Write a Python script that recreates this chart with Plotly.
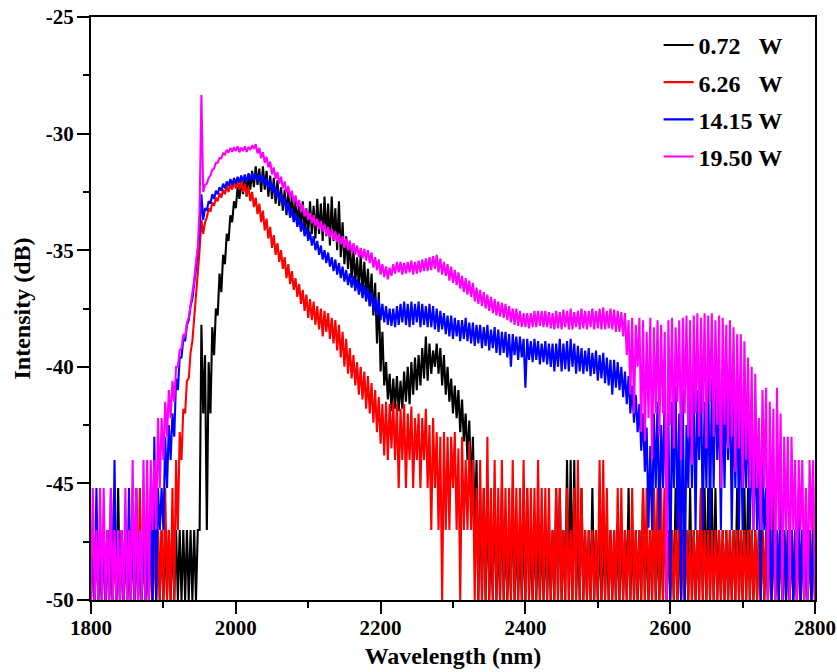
import plotly.graph_objects as go

# Wavelength bins (nm), 5 nm apart; for each bin the lowest and highest
# level the trace reaches inside that bin, in dB.
wavelength = list(range(1800, 2805, 5))

series_names = ["0.72\u00a0\u00a0\u00a0W", "6.26\u00a0\u00a0\u00a0W", "14.15 W", "19.50 W"]
series_colors = ["#000000", "#ff0000", "#0000ff", "#ff00ff"]

black_hi = [
    -47, -47, -47, -47, -47, -47, -47, -45.2, -47, -47,                        # 1800
    -47, -45.2, -47, -47, -47, -47, -47, -47, -47, -47,                        # 1850
    -47, -47, -47, -47, -47, -47, -47, -47, -47, -47,                          # 1900
    -38.2, -39.5, -39.8, -38.3, -37.5, -36.0, -35.2, -34.3, -33.5, -32.9,      # 1950
    -32.3, -32.0, -31.8, -31.7, -31.6, -31.4, -31.5, -31.4, -31.6, -31.8,      # 2000
    -31.9, -32.0, -32.3, -32.4, -32.5, -32.6, -32.9, -33.0, -32.9, -33.2,      # 2050
    -32.9, -33.1, -32.8, -33.0, -32.7, -33.0, -32.7, -33.2, -32.9, -33.8,      # 2100
    -34.4, -34.6, -35.0, -35.3, -35.2, -35.5, -35.8, -36.0, -36.4, -36.8,      # 2150
    -38.5, -39.8, -40.3, -40.5, -40.4, -40.6, -40.2, -40.0, -39.8, -39.6,      # 2200
    -39.5, -39.2, -38.7, -39.0, -39.3, -39.0, -39.2, -39.5, -40.0, -40.5,      # 2250
    -40.8, -41.0, -41.4, -42.0, -42.3, -43.0, -44.0, -45.2, -45.2, -45.2,      # 2300
    -47, -45.2, -47, -45.2, -47, -47, -45.2, -47, -47, -47,                    # 2350
    -45.2, -47, -47, -47, -47, -47, -47, -47, -45.2, -45.2,                    # 2400
    -47, -44.0, -44.0, -44.0, -47, -45.2, -47, -47, -45.2, -47,                # 2450
    -47, -47, -47, -47, -47, -47, -47, -47, -45.2, -47,                        # 2500
    -47, -47, -45.2, -47, -47, -45.2, -47, -47, -45.2, -47,                    # 2550
    -47, -45.2, -47, -47, -47, -45.2, -47, -47, -45.2, -45.2,                  # 2600
    -45.2, -45.2, -45.2, -47, -47, -47, -47, -47, -45.2, -47,                  # 2650
    -45.2, -45.2, -47, -47, -47, -47, -47, -47, -45.2, -47,                    # 2700
    -47, -47, -47, -47, -47, -47, -47, -47, -47, -47,                          # 2750
    -47,                                                                       # 2800
]
black_lo = (
    [-50] * 30 + [
    -47.0, -42.0, -47.0, -42.0, -39.5, -37.8, -36.8, -35.6, -34.6, -33.8,      # 1950
    -33.2, -32.8, -32.6, -32.7, -32.4, -32.3, -32.2, -32.5, -32.4, -32.7,      # 2000
    -32.8, -33.0, -33.1, -33.3, -33.5, -33.6, -33.7, -33.9, -34.1, -34.2,      # 2050
    -34.4, -34.3, -34.5, -34.3, -34.6, -34.4, -34.8, -34.6, -35.0, -35.3,      # 2100
    -35.6, -35.8, -36.2, -36.4, -36.6, -36.8, -37.0, -37.4, -37.8, -39.0,      # 2150
    -40.2, -40.8, -41.4, -41.9, -41.8, -41.9, -41.8, -41.5, -41.6, -41.2,      # 2200
    -41.0, -40.8, -40.5, -40.6, -40.3, -40.0, -40.3, -40.8, -41.2, -41.5,      # 2250
    -42.0, -42.2, -42.8, -43.2, -44.0, -45.2, -47.0, -50, -50, -50,            # 2300
    ] + [-50] * 91                                                             # 2350-2800
)

red_hi = [
    -47, -47, -47, -47, -47, -47, -47, -47, -47, -47,                          # 1800
    -47, -47, -45.2, -45.2, -47, -47, -47, -47, -47, -47,                      # 1850
    -45.2, -47, -45.2, -44.0, -42.8, -41.8, -40.6, -39.4, -37.9, -36.2,        # 1900
    -33.7, -33.8, -33.2, -32.95, -32.75, -32.55, -32.4, -32.25, -32.15, -32.05,  # 1950
    -32.0, -32.05, -32.15, -32.3, -32.5, -32.75, -33.0, -33.3, -33.65, -34.0,  # 2000
    -34.35, -34.7, -35.0, -35.3, -35.6, -35.9, -36.2, -36.45, -36.7, -36.9,    # 2050
    -37.1, -37.2, -37.4, -37.5, -37.6, -37.7, -37.9, -38.0, -38.2, -38.5,      # 2100
    -38.8, -39.2, -39.5, -39.8, -40.0, -40.2, -40.4, -40.7, -41.0, -41.3,      # 2150
    -41.6, -41.5, -41.6, -41.5, -41.6, -41.8, -41.6, -42.0, -41.7, -42.2,      # 2200
    -42.0, -42.2, -41.8, -42.5, -42.2, -42.8, -43.0, -42.8, -43.0, -43.0,      # 2250
    -42.8, -43.5, -43.0, -44.0, -43.2, -44.0, -45.2, -44.0, -45.2, -43.0,      # 2300
    -45.2, -44.0, -45.2, -44.0, -45.2, -45.2, -44.0, -45.2, -45.2, -44.0,      # 2350
    -45.2, -45.2, -45.2, -44.0, -45.2, -45.2, -45.2, -47, -45.2, -45.2,        # 2400
    -47, -45.2, -47, -45.2, -44.0, -45.2, -47, -47, -47, -47,                  # 2450
    -44.0, -44.0, -45.2, -47, -47, -45.2, -45.2, -47, -47, -45.2,              # 2500
    -47, -47, -45.2, -45.2, -47, -45.2, -45.2, -45.2, -45.2, -47,              # 2550
    -47, -47, -45.2, -47, -47, -47, -47, -47, -45.2, -47,                      # 2600
    -47, -47, -47, -47, -47, -47, -47, -47, -47, -47,                          # 2650
    -47, -47, -47, -47, -47, -47, -47, -47, -47, -47,                          # 2700
    -47, -47, -47, -47, -47, -47, -47, -45.2, -47, -45.2,                      # 2750
    -45.2,                                                                     # 2800
]
red_lo = (
    [-50] * 20 + [
    -50, -50, -50, -50, -47, -44.0, -42.0, -40.5, -38.9, -37.3,                # 1900
    -35.0, -34.3, -33.6, -33.35, -33.1, -32.9, -32.75, -32.6, -32.5, -32.4,    # 1950
    -32.35, -32.4, -32.5, -32.65, -32.9, -33.15, -33.45, -33.8, -34.15, -34.5,  # 2000
    -34.9, -35.2, -35.5, -35.8, -36.2, -36.45, -36.7, -37.0, -37.3, -37.6,     # 2050
    -37.9, -38.0, -38.2, -38.4, -38.7, -38.5, -38.8, -39.0, -39.3, -39.6,      # 2100
    -40.0, -40.3, -40.5, -40.8, -41.2, -41.4, -41.8, -42.0, -42.4, -42.8,      # 2150
    -43.3, -43.8, -44.0, -43.5, -44.0, -45.2, -44.0, -45.2, -44.0, -45.2,      # 2200
    -44.0, -45.2, -44.0, -45.2, -47.0, -45.2, -47.0, -50, -47.0, -47.0,        # 2250
    -45.2, -47.0, -50, -47.0, -47.0, -47.0, -50, -50, -50, -50,                # 2300
    ] + [-50] * 91                                                             # 2350-2800
)

blue_hi = [
    -47, -45.2, -47, -47, -47, -45.2, -44.0, -47, -47, -47,                    # 1800
    -45.2, -47, -45.2, -47, -47, -47, -45.2, -43.0, -45.2, -45.2,              # 1850
    -43.0, -42.5, -42.0, -40.5, -39.6, -38.8, -38.2, -37.4, -36.5, -35.0,      # 1900
    -32.6, -33.2, -32.9, -32.6, -32.45, -32.3, -32.15, -32.05, -31.95, -31.9,  # 1950
    -31.85, -31.8, -31.75, -31.75, -31.7, -31.7, -31.75, -31.8, -31.9, -32.0,  # 2000
    -32.15, -32.35, -32.55, -32.75, -32.95, -33.2, -33.4, -33.6, -33.8, -34.0,  # 2050
    -34.2, -34.4, -34.6, -34.8, -35.0, -35.1, -35.3, -35.4, -35.55, -35.7,     # 2100
    -35.85, -36.0, -36.1, -36.25, -36.4, -36.5, -36.65, -36.8, -37.0, -37.1,   # 2150
    -37.3, -37.4, -37.5, -37.5, -37.4, -37.3, -37.2, -37.3, -37.2, -37.3,      # 2200
    -37.2, -37.3, -37.4, -37.3, -37.4, -37.5, -37.6, -37.7, -37.8, -37.8,      # 2250
    -37.9, -38.0, -38.0, -37.9, -38.1, -38.1, -38.2, -38.2, -38.3, -38.2,      # 2300
    -38.4, -38.3, -38.4, -38.5, -38.5, -38.6, -38.6, -38.7, -38.7, -38.8,      # 2350
    -38.8, -38.9, -38.8, -38.9, -39.0, -38.9, -39.0, -39.0, -39.0, -38.8,      # 2400
    -39.0, -38.9, -38.8, -39.0, -39.1, -39.2, -39.3, -39.2, -39.4, -39.3,      # 2450
    -39.5, -39.4, -39.6, -39.7, -39.7, -39.8, -40.0, -40.2, -40.4, -40.8,      # 2500
    -41.2, -41.6, -42.0, -42.6, -43.4, -42.0, -41.5, -42.5, -41.0, -42.0,      # 2550
    -41.5, -40.8, -42.0, -41.0, -42.5, -41.0, -40.5, -41.0, -40.0, -41.5,      # 2600
    -40.2, -40.5, -40.0, -41.0, -40.5, -41.0, -40.2, -41.5, -40.8, -41.5,      # 2650
    -42.0, -41.2, -42.5, -43.0, -44.0, -44.0, -45.2, -45.2, -47.0, -47.0,      # 2700
    -45.2, -47.0, -47.0, -47.0, -47.0, -45.2, -47.0, -47.0, -47.0, -47.0,      # 2750
    -47.0,                                                                     # 2800
]
blue_lo = (
    [-50] * 19 + [-47] + [
    -47, -45.2, -44.0, -43.0, -41.0, -39.6, -38.9, -38.0, -37.1, -35.8,        # 1900
    -34.2, -33.7, -33.3, -33.0, -32.8, -32.6, -32.45, -32.35, -32.25, -32.2,   # 1950
    -32.15, -32.1, -32.05, -32.05, -32.0, -32.0, -32.05, -32.1, -32.2, -32.35,  # 2000
    -32.5, -32.7, -32.9, -33.1, -33.35, -33.6, -33.8, -34.0, -34.2, -34.4,     # 2050
    -34.6, -34.8, -35.0, -35.2, -35.4, -35.55, -35.7, -35.9, -36.05, -36.2,    # 2100
    -36.35, -36.5, -36.6, -36.75, -36.9, -37.05, -37.2, -37.4, -37.6, -37.8,   # 2150
    -38.0, -38.1, -38.2, -38.25, -38.3, -38.2, -38.1, -38.2, -38.3, -38.2,     # 2200
    -38.1, -38.3, -38.2, -38.3, -38.3, -38.4, -38.5, -38.4, -38.6, -38.7,      # 2250
    -38.8, -38.7, -38.9, -38.8, -38.9, -39.0, -39.1, -39.0, -39.2, -39.1,      # 2300
    -39.3, -39.2, -39.4, -39.5, -39.4, -39.6, -40.0, -39.5, -39.7, -39.6,      # 2350
    -40.9, -39.7, -39.8, -39.7, -39.9, -39.8, -39.9, -40.0, -40.2, -40.0,      # 2400
    -40.2, -40.1, -40.2, -40.0, -40.3, -40.2, -40.3, -40.2, -40.4, -40.3,      # 2450
    -40.6, -40.5, -40.7, -40.8, -41.2, -40.9, -41.0, -41.3, -41.6, -42.0,      # 2500
    -42.4, -42.8, -43.6, -44.5, -46.9, -47.0, -45.2, -47.0, -45.2, -47.0,      # 2550
    -50, -45.2, -47.0, -50, -50, -45.2, -45.2, -47.0, -44.0, -47.0,            # 2600
    -45.2, -47.0, -45.2, -44.0, -47.0, -45.2, -44.0, -47.0, -45.2, -47.0,      # 2650
    -47.0, -45.2, -47.0, -47.0, -47.0, -50, -47.0, -50, -50, -50,              # 2700
    ] + [-50] * 11                                                             # 2750-2800
)

magenta_hi = [
    -45.2, -47, -45.2, -45.2, -47, -45.2, -47, -47, -47, -45.2,                # 1800
    -47, -44, -45.2, -47, -44, -44, -44, -44, -42.2, -42.2,                    # 1850
    -41.5, -41.0, -40.6, -40.0, -39.3, -38.6, -38.1, -37.4, -36.3, -34.9,      # 1900
    -28.35, -32.2, -31.9, -31.55, -31.25, -31.05, -30.85, -30.7, -30.62, -30.58,  # 1950
    -30.55, -30.6, -30.55, -30.58, -30.5, -30.45, -30.62, -30.8, -31.0, -31.2,  # 2000
    -31.45, -31.65, -31.85, -32.05, -32.25, -32.45, -32.65, -32.85, -33.05, -33.25,  # 2050
    -33.4, -33.5, -33.65, -33.75, -33.9, -34.0, -34.1, -34.2, -34.3, -34.4,    # 2100
    -34.5, -34.6, -34.7, -34.8, -34.9, -34.95, -35.0, -35.1, -35.3, -35.4,     # 2150
    -35.6, -35.7, -35.75, -35.6, -35.5, -35.5, -35.55, -35.5, -35.45, -35.5,   # 2200
    -35.45, -35.4, -35.35, -35.3, -35.25, -35.2, -35.35, -35.5, -35.6, -35.7,  # 2250
    -35.85, -35.95, -36.1, -36.2, -36.3, -36.4, -36.6, -36.7, -36.8, -36.9,    # 2300
    -37.0, -37.1, -37.2, -37.25, -37.3, -37.4, -37.5, -37.5, -37.6, -37.7,     # 2350
    -37.7, -37.7, -37.6, -37.6, -37.6, -37.6, -37.65, -37.7, -37.6, -37.65,    # 2400
    -37.55, -37.6, -37.5, -37.65, -37.6, -37.5, -37.6, -37.6, -37.5, -37.6,    # 2450
    -37.5, -37.45, -37.6, -37.5, -37.55, -37.6, -37.65, -37.7, -38.0, -37.9,   # 2500
    -38.2, -37.9, -38.0, -38.5, -37.9, -38.3, -38.0, -38.2, -38.5, -38.0,      # 2550
    -37.9, -38.3, -38.0, -37.9, -37.8, -38.0, -37.8, -37.7, -37.9, -37.7,      # 2600
    -37.8, -37.7, -38.0, -37.8, -37.9, -38.2, -38.0, -38.3, -38.6, -38.6,      # 2650
    -38.9, -39.6, -40.0, -40.3, -42.2, -41.0, -40.9, -41.5, -41.8, -40.9,      # 2700
    -42.0, -43.0, -43.0, -43.0, -44.0, -44.0, -44.0, -45.2, -44.0, -44.0,      # 2750
    -45.2,                                                                     # 2800
]
magenta_lo = (
    [-50] * 17 + [
    -47, -47, -45.2,                                                           # 1885-1895
    -44.0, -43.0, -42.2, -41.5, -40.0, -39.2, -38.7, -37.9, -36.9, -35.5,      # 1900
    -33.2, -32.5, -32.15, -31.8, -31.5, -31.25, -31.05, -30.9, -30.82, -30.78,  # 1950
    -30.75, -30.8, -30.75, -30.78, -30.7, -30.65, -30.85, -31.05, -31.25, -31.45,  # 2000
    -31.75, -31.95, -32.15, -32.35, -32.55, -32.75, -32.95, -33.15, -33.35, -33.55,  # 2050
    -33.7, -33.85, -33.95, -34.1, -34.2, -34.35, -34.45, -34.55, -34.65, -34.75,  # 2100
    -34.9, -35.0, -35.1, -35.2, -35.3, -35.35, -35.45, -35.55, -35.75, -35.85,  # 2150
    -36.05, -36.15, -36.25, -36.1, -36.0, -35.95, -36.05, -36.0, -35.95, -36.05,  # 2200
    -36.0, -35.95, -35.9, -35.9, -35.85, -35.8, -35.95, -36.05, -36.1, -36.3,  # 2250
    -36.4, -36.5, -36.65, -36.8, -36.9, -37.0, -37.2, -37.3, -37.4, -37.5,     # 2300
    -37.6, -37.7, -37.8, -37.85, -37.9, -38.0, -38.1, -38.2, -38.25, -38.3,    # 2350
    -38.3, -38.35, -38.3, -38.3, -38.25, -38.3, -38.3, -38.35, -38.4, -38.35,  # 2400
    -38.4, -38.3, -38.4, -38.4, -38.3, -38.4, -38.35, -38.4, -38.3, -38.4,     # 2450
    -38.35, -38.4, -38.4, -38.35, -38.4, -38.5, -38.5, -38.7, -39.5, -41.2,    # 2500
    -42.0, -40.0, -42.8, -43.2, -42.2, -44.0, -42.0, -43.0, -42.0, -50,        # 2550
    -42.5, -43.5, -41.5, -44.0, -42.0, -43.0, -44.2, -42.0, -43.0, -42.0,      # 2600
    -43.5, -41.5, -43.0, -42.5, -45.2, -42.5, -43.5, -43.0, -44.5, -43.5,      # 2650
    -45.2, -44.0, -45.2, -47.0, -45.2, -47.0, -45.2, -50, -47, -50,            # 2700
    -47, -50, -47, -50, -47, -50, -47, -50, -50, -47,                          # 2750
    -50,                                                                       # 2800
    ]
)

series_lo = [black_lo, red_lo, blue_lo, magenta_lo]
series_hi = [black_hi, red_hi, blue_hi, magenta_hi]
for arr in series_lo + series_hi:
    assert len(arr) == len(wavelength), len(arr)

x_ticks = [1800, 2000, 2200, 2400, 2600, 2800]
x_tick_labels = ["1800", "2000", "2200", "2400", "2600", "2800"]
y_ticks = [-50, -45, -40, -35, -30, -25]
y_tick_labels = ["-50", "-45", "-40", "-35", "-30", "-25"]


def trace_points(lo, hi):
    # each bin: its lowest reading, then its highest reading half a bin later
    xs, ys = [], []
    for w, a, b in zip(wavelength, lo, hi):
        xs.extend([w, w + 2.5])
        ys.extend([a, b])
    return xs, ys


FONT = "Liberation Serif, Times New Roman, serif"

fig = go.Figure()
for name, color, lo, hi in zip(series_names, series_colors, series_lo, series_hi):
    xs, ys = trace_points(lo, hi)
    fig.add_trace(go.Scatter(
        x=xs, y=ys, mode="lines", name=name, legendgroup=name,
        line=dict(color=color, width=2.1), hoverinfo="skip",
    ))

axis_common = dict(
    ticks="outside", ticklen=12, tickwidth=2, tickcolor="black",
    showline=True, linewidth=2, linecolor="black", mirror=True,
    showgrid=False, zeroline=False, automargin=False,
    ticklabeloverflow="allow",
    tickfont=dict(family=FONT, size=21, color="black", weight="bold"),
)

fig.update_layout(
    width=837, height=672,
    margin=dict(l=91, r=22, t=17, b=72),
    paper_bgcolor="white", plot_bgcolor="white",
    showlegend=True,
    legend=dict(
        x=0.784, y=0.99, xanchor="left", yanchor="top",
        bgcolor="rgba(0,0,0,0)", tracegroupgap=3,
        font=dict(family=FONT, size=24, color="black", weight="bold"),
    ),
    xaxis=dict(
        range=[1800, 2800], tickvals=x_ticks, ticktext=x_tick_labels,
        ticklabelstandoff=-4,
        title=dict(text="Wavelength (nm)", standoff=8,
                   font=dict(family=FONT, size=24, color="black", weight="bold")),
        minor=dict(dtick=100, tick0=1800, ticks="outside", ticklen=6, tickwidth=2,
                   tickcolor="black", showgrid=False),
        **axis_common,
    ),
    yaxis=dict(
        range=[-50, -25], tickvals=y_ticks, ticktext=y_tick_labels,
        ticklabelstandoff=-1,
        title=dict(text="Intensity (dB)", standoff=8,
                   font=dict(family=FONT, size=24, color="black", weight="bold")),
        minor=dict(dtick=2.5, tick0=-50, ticks="outside", ticklen=6, tickwidth=2,
                   tickcolor="black", showgrid=False),
        **axis_common,
    ),
)

# remove the browser's default 8 px page margin so the figure fills the window
fig.write_html(
    "out.html",
    config={"displayModeBar": False},
    post_script="document.body.style.margin = '0';",
)
